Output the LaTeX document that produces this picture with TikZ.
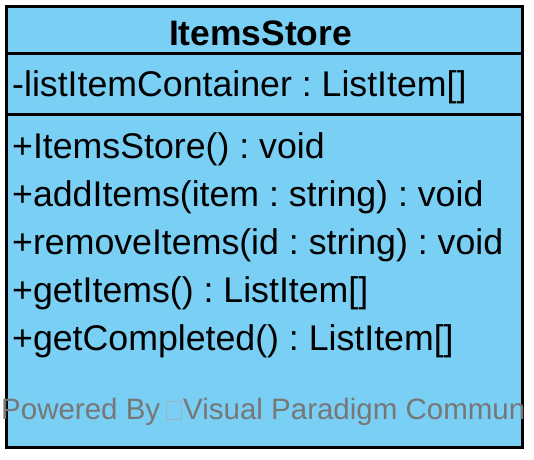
\documentclass[tikz,border=0pt]{standalone}
\usepackage{fontspec}
\setmainfont{Liberation Sans}
\frenchspacing
\definecolor{classfill}{HTML}{7ACFF5}
\definecolor{wmgray}{HTML}{777777}
\definecolor{wmbox}{HTML}{9AB4C4}
\begin{document}
\begin{tikzpicture}[x=1pt,y=-1pt,
  compartment/.style={draw=black,line width=3pt,fill=classfill},
  member/.style={anchor=base west,inner sep=0pt,font=\fontsize{35.7}{42}\selectfont\frenchspacing},
  titletext/.style={anchor=base,inner sep=0pt,font=\fontsize{35.4}{42}\selectfont\bfseries},
  watermark/.style={anchor=base west,inner sep=0pt,text=wmgray,font=\fontsize{29.5}{34}\selectfont}]
\useasboundingbox (0,0) rectangle (534,459);
% class box compartments
\draw[compartment] (6.5,6.3) rectangle (522.5,447);
\draw[line width=3pt] (6.5,53.3) -- (522.5,53.3);
\draw[line width=3pt] (6.5,114.7) -- (522.5,114.7);
% title
\node[titletext] (title) at (260.5,45.5) {ItemsStore};
% attribute
\node[member] (attr) at (12,96.5) {-listItemContainer : ListItem[]};
% operations
\node[member] (op1) at (12,158) {+ItemsStore() : void};
\node[member] (op2) at (12,206) {+addItems(item : string) : void};
\node[member] (op3) at (12,254) {+removeItems(id : string) : void};
\node[member] (op4) at (12,302) {+getItems() : ListItem[]};
\node[member] (op5) at (12,350) {+getCompleted() : ListItem[]};
% watermark
\node[watermark] (wm1) at (1,419) {Powered By};
\draw[wmbox,line width=0.8pt] (166,401) rectangle (181,419);
\node[watermark] (wm2) at (183,419) {Visual Paradigm Commun};
\end{tikzpicture}
\end{document}
